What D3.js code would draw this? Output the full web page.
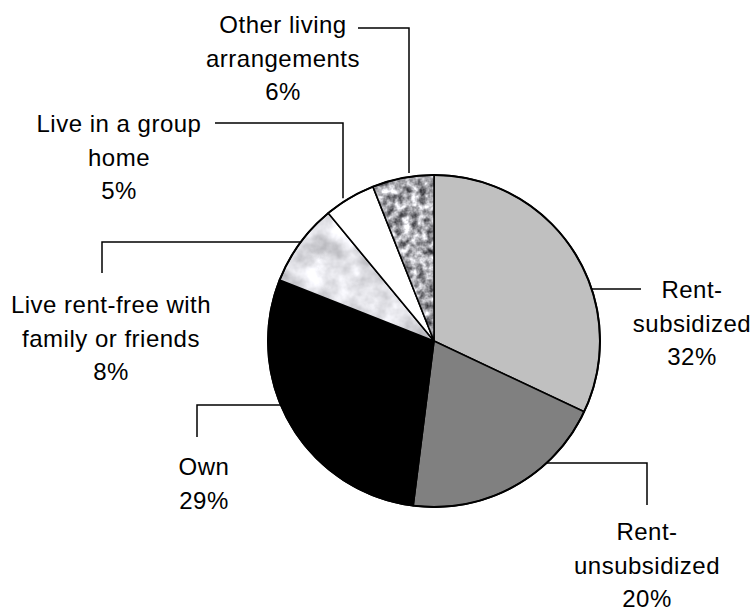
<!DOCTYPE html>
<html>
<head>
<meta charset="utf-8">
<script src="https://cdn.jsdelivr.net/npm/d3@7"></script>
<style>
  html, body { margin: 0; padding: 0; background: #fff; }
  svg { display: block; }
  text { font-family: "Liberation Sans", Arial, sans-serif; font-size: 24px; letter-spacing: 0.5px; fill: #000; }
</style>
</head>
<body>
<svg id="chart" width="755" height="613"></svg>
<script>
// ---- Data ----
const categories = ["Rent-subsidized", "Rent-unsubsidized", "Own", "Live rent-free with family or friends", "Live in a group home", "Other living arrangements"];
const values = [32, 20, 29, 8, 5, 6];
const labelLines = [
  ["Rent-", "subsidized", "32%"],
  ["Rent-", "unsubsidized", "20%"],
  ["Own", "29%"],
  ["Live rent-free with", "family or friends", "8%"],
  ["Live in a group", "home", "5%"],
  ["Other living", "arrangements", "6%"]
];

// ---- Layout / style ----
const W = 755, H = 613;
const cx = 434, cy = 341, R = 166;
const fills = ["#c0c0c0", "#808080", "#000000", "url-marble", "#ffffff", "url-granite"];
const labelLayout = [
  { tx: 692, ty: 298, leader: { type: "h", y: 289, side: 1, x2: 641 } },
  { tx: 647, ty: 540, leader: { type: "hv", y: 463, side: 1, x2: 647, y2: 505 } },
  { tx: 204, ty: 475, leader: { type: "hv", y: 405, side: -1, x2: 197, y2: 437 } },
  { tx: 111, ty: 313, leader: { type: "hv", y: 242, side: -1, x2: 102, y2: 273 } },
  { tx: 119, ty: 132, leader: { type: "vh", x: 343, y1: 123, x1: 215 } },
  { tx: 283, ty: 33,  leader: { type: "vh", x: 409, y1: 28, x1: 358 } }
];
const lineHeight = 33.5;

const svg = d3.select("#chart");
svg.append("rect").attr("width", W).attr("height", H).attr("fill", "#fff");

const defs = svg.append("defs");
function noiseFilter(id, freq, oct, a, b, seed) {
  const f = defs.append("filter").attr("id", id)
    .attr("x", 0).attr("y", 0).attr("width", 1).attr("height", 1)
    .attr("color-interpolation-filters", "sRGB");
  f.append("feTurbulence").attr("type", "fractalNoise")
    .attr("baseFrequency", freq).attr("numOctaves", oct).attr("seed", seed);
  f.append("feColorMatrix").attr("type", "matrix")
    .attr("values", `${a} 0 0 0 ${b}  ${a} 0 0 0 ${b}  ${a} 0 0 0 ${b+0.02}  0 0 0 0 1`);
}
noiseFilter("granite", 0.13, 3, 1.4, -0.04, 4);
noiseFilter("marble", 0.04, 4, 0.5, 0.63, 7);

const pie = d3.pie().sort(null).value(d => d)(values);
const arc = d3.arc().innerRadius(0).outerRadius(R);

const g = svg.append("g").attr("transform", `translate(${cx},${cy})`);

pie.forEach((p, i) => {
  const f = fills[i];
  if (f.startsWith("url-")) {
    const name = f.slice(4);
    const cid = "clip" + i;
    defs.append("clipPath").attr("id", cid).append("path").attr("d", arc(p));
    g.append("g").attr("clip-path", `url(#${cid})`)
      .append("rect").attr("x", -R - 2).attr("y", -R - 2)
      .attr("width", 2 * R + 4).attr("height", 2 * R + 4)
      .attr("fill", "#ccc")
      .attr("filter", `url(#${name})`);
    g.append("path").attr("d", arc(p)).attr("fill", "none")
      .attr("stroke", "#000").attr("stroke-width", 1.6).attr("stroke-linejoin", "round");
  } else {
    g.append("path").attr("d", arc(p)).attr("fill", f)
      .attr("stroke", "#000").attr("stroke-width", 1.6).attr("stroke-linejoin", "round");
  }
});
g.append("circle").attr("r", R).attr("fill", "none").attr("stroke", "#000").attr("stroke-width", 2);

// leaders
const line = d3.line();
labelLayout.forEach((L, i) => {
  const ld = L.leader;
  let pts;
  if (ld.type === "h" || ld.type === "hv") {
    const dx = Math.sqrt(R * R - (ld.y - cy) * (ld.y - cy));
    const x0 = cx + ld.side * dx;
    pts = [[x0, ld.y], [ld.x2, ld.y]];
    if (ld.type === "hv") pts.push([ld.x2, ld.y2]);
  } else {
    const dy = Math.sqrt(R * R - (ld.x - cx) * (ld.x - cx));
    const y0 = cy - dy - 4;
    pts = [[ld.x1, ld.y1], [ld.x, ld.y1], [ld.x, y0]];
  }
  svg.append("path").attr("d", line(pts)).attr("fill", "none")
    .attr("stroke", "#000").attr("stroke-width", 1.5);

  const t = svg.append("text").attr("text-anchor", "middle");
  labelLines[i].forEach((s, k) => {
    t.append("tspan").attr("x", L.tx).attr("y", L.ty + k * lineHeight).text(s);
  });
});
</script>
</body>
</html>
